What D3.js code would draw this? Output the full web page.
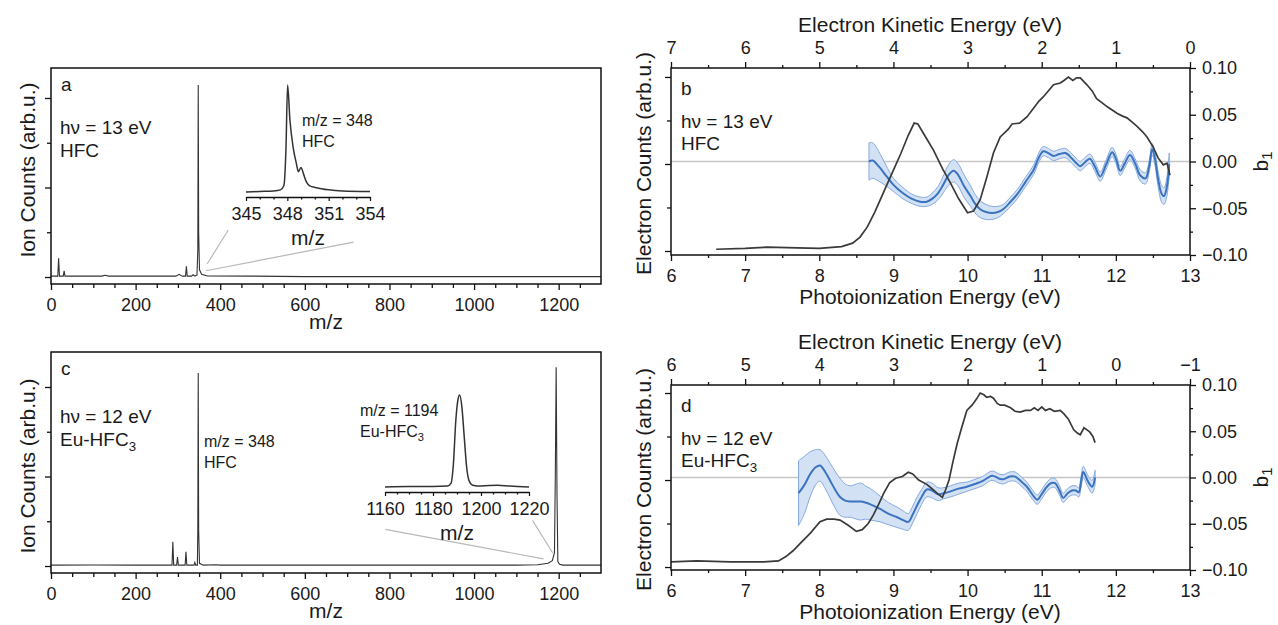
<!DOCTYPE html>
<html>
<head>
<meta charset="utf-8">
<script src="https://cdn.jsdelivr.net/npm/d3@7"></script>
<style>
  body { margin: 0; background: #fff; }
  text { font-family: "Liberation Sans", Arial, Helvetica, sans-serif; fill: #1a1a1a; }
</style>
</head>
<body>
<svg id="fig" width="1278" height="625"></svg>
<script>
// ---------- mass spectra: [m/z, counts] ----------
var mzTicks = [0, 200, 400, 600, 800, 1000, 1200];

var specA = [
  [0, 0.01], [16, 0.01], [18, 0.21], [20, 0.01], [29, 0.01], [31, 0.07], [33, 0.01],
  [120, 0.01], [128, 0.02], [136, 0.01], [295, 0.01], [303, 0.03], [308, 0.015], [312, 0.01],
  [318, 0.01], [320, 0.12], [322, 0.01], [332, 0.01], [336, 0.025], [340, 0.01], [345, 0.02],
  [347, 0.3], [348, 2.145], [349, 0.5], [351, 0.08], [356, 0.03], [370, 0.012], [480, 0.01],
  [600, 0.004], [1300, 0.004]
];

var specC = [
  [0, 0.01], [100, 0.012], [200, 0.01], [286, 0.01], [288, 0.27], [290, 0.01], [297, 0.01],
  [299, 0.1], [301, 0.01], [317, 0.01], [319, 0.16], [321, 0.01], [338, 0.01], [340, 0.04],
  [342, 0.01], [346, 0.01], [347, 0.4], [348, 2.157], [349, 0.4], [351, 0.03], [360, 0.01],
  [390, 0.015], [400, 0.01], [1100, 0.01], [1150, 0.015], [1175, 0.03], [1185, 0.06],
  [1190, 0.15], [1192, 1.0], [1194, 2.22], [1196, 0.8], [1198, 0.05], [1202, 0.02],
  [1210, 0.01], [1300, 0.01]
];

var insetATicks = [345, 348, 351, 354];
var insetA = [
  [345, 0.0], [346, 0.005], [347, 0.01], [347.5, 0.02], [347.75, 0.06], [347.9, 0.4],
  [348.02, 1.0], [348.19, 0.67], [348.43, 0.41], [348.65, 0.27], [348.8, 0.19], [348.99, 0.23],
  [349.15, 0.18], [349.3, 0.12], [349.6, 0.06], [350.1, 0.04], [351, 0.02], [352, 0.01], [354, 0.005]
];

var insetCTicks = [1160, 1180, 1200, 1220];
var insetC = [
  [1160, 0.0], [1170, 0.005], [1180, 0.005], [1186, 0.01], [1187.5, 0.04], [1188.5, 0.25],
  [1189.5, 0.72], [1190.4, 0.95], [1191.1, 1.0], [1192, 0.88], [1193, 0.55], [1194, 0.22],
  [1195, 0.07], [1196.5, 0.02], [1200, 0.01], [1207, 0.02], [1212, 0.01], [1220, 0.0]
];

// ---------- photoelectron spectra ----------
var peTicks = [6, 7, 8, 9, 10, 11, 12, 13];
var keTicksB = [7, 6, 5, 4, 3, 2, 1, 0];
var keTicksD = [6, 5, 4, 3, 2, 1, 0, -1];
var b1Ticks = [-0.10, -0.05, 0, 0.05, 0.10];

// [photon energy, counts]
var countsB = [
  [6.61, 0.02], [7.0, 0.03], [7.3, 0.045], [7.7, 0.035], [8.0, 0.03], [8.3, 0.05], [8.45, 0.09],
  [8.55, 0.16], [8.65, 0.28], [8.75, 0.45], [8.88, 0.7], [9.0, 0.93], [9.1, 1.12], [9.2, 1.33],
  [9.28, 1.47], [9.33, 1.46], [9.42, 1.33], [9.54, 1.16], [9.66, 0.95], [9.77, 0.78], [9.88, 0.6],
  [10.0, 0.44], [10.08, 0.46], [10.17, 0.59], [10.26, 0.85], [10.35, 1.13], [10.44, 1.31],
  [10.55, 1.40], [10.6, 1.46], [10.7, 1.47], [10.8, 1.54], [10.89, 1.64], [10.96, 1.72],
  [11.02, 1.77], [11.1, 1.85], [11.16, 1.91], [11.25, 1.93], [11.3, 1.96], [11.36, 2.0],
  [11.42, 1.96], [11.47, 1.99], [11.52, 1.99], [11.61, 1.91], [11.68, 1.84], [11.74, 1.75],
  [11.82, 1.7], [11.88, 1.66], [11.95, 1.62], [12.02, 1.58], [12.09, 1.55], [12.15, 1.53],
  [12.22, 1.48], [12.29, 1.43], [12.36, 1.37], [12.42, 1.31], [12.5, 1.2], [12.57, 1.07],
  [12.64, 0.99], [12.69, 1.01], [12.73, 0.87]
];

// [photon energy, b1, error]
var betaB = [
  [8.67, 0.0, 0.02], [8.72, 0.001, 0.019], [8.8, -0.005, 0.016], [8.9, -0.015, 0.011],
  [9.0, -0.025, 0.007], [9.13, -0.034, 0.006], [9.25, -0.04, 0.005], [9.36, -0.043, 0.005],
  [9.45, -0.043, 0.005], [9.52, -0.04, 0.006], [9.6, -0.034, 0.007], [9.67, -0.025, 0.009],
  [9.74, -0.015, 0.011], [9.81, -0.01, 0.012], [9.87, -0.014, 0.012], [9.95, -0.026, 0.012],
  [10.04, -0.037, 0.011], [10.1, -0.045, 0.01], [10.17, -0.051, 0.009], [10.25, -0.054, 0.008],
  [10.33, -0.055, 0.007], [10.41, -0.054, 0.006], [10.48, -0.051, 0.005], [10.58, -0.043, 0.005],
  [10.67, -0.035, 0.005], [10.78, -0.022, 0.005], [10.89, -0.009, 0.005], [10.96, 0.004, 0.005],
  [11.02, 0.011, 0.005], [11.09, 0.009, 0.005], [11.16, 0.006, 0.005], [11.24, 0.008, 0.005],
  [11.32, 0.009, 0.005], [11.41, 0.003, 0.005], [11.47, -0.002, 0.005], [11.52, -0.005, 0.005],
  [11.58, -0.001, 0.005], [11.65, 0.003, 0.005], [11.72, -0.006, 0.005], [11.79, -0.016, 0.005],
  [11.87, -0.003, 0.005], [11.95, 0.01, 0.005], [12.0, 0.003, 0.005], [12.06, -0.01, 0.005],
  [12.12, -0.002, 0.005], [12.19, 0.007, 0.005], [12.26, -0.002, 0.005], [12.33, -0.015, 0.006],
  [12.4, -0.018, 0.006], [12.45, -0.005, 0.006], [12.49, 0.013, 0.006], [12.53, 0.002, 0.007],
  [12.57, -0.019, 0.008], [12.62, -0.035, 0.009], [12.65, -0.037, 0.009], [12.69, -0.026, 0.01],
  [12.72, -0.003, 0.012]
];

var countsD = [
  [6.0, 0.06], [6.35, 0.07], [6.8, 0.06], [7.25, 0.06], [7.45, 0.07], [7.55, 0.12], [7.65, 0.19],
  [7.74, 0.27], [7.88, 0.39], [8.01, 0.52], [8.1, 0.55], [8.2, 0.55], [8.28, 0.54], [8.39, 0.48],
  [8.5, 0.41], [8.58, 0.43], [8.66, 0.5], [8.73, 0.6], [8.8, 0.72], [8.87, 0.85], [8.95, 0.97],
  [9.03, 1.02], [9.12, 1.04], [9.2, 1.09], [9.26, 1.07], [9.34, 1.0], [9.45, 0.95], [9.52, 0.9],
  [9.6, 0.84], [9.66, 0.8], [9.7, 0.88], [9.75, 1.0], [9.8, 1.2], [9.86, 1.42], [9.92, 1.6],
  [9.99, 1.8], [10.06, 1.86], [10.12, 1.93], [10.17, 2.0], [10.22, 1.98], [10.26, 1.95],
  [10.31, 1.96], [10.35, 1.94], [10.4, 1.88], [10.44, 1.86], [10.5, 1.86], [10.58, 1.83],
  [10.64, 1.79], [10.71, 1.78], [10.78, 1.8], [10.85, 1.8], [10.9, 1.83], [10.95, 1.8],
  [11.0, 1.84], [11.05, 1.8], [11.11, 1.82], [11.17, 1.79], [11.25, 1.8], [11.3, 1.76],
  [11.36, 1.7], [11.43, 1.58], [11.48, 1.54], [11.52, 1.52], [11.57, 1.6], [11.62, 1.57],
  [11.65, 1.55], [11.69, 1.5], [11.72, 1.43]
];

var betaD = [
  [7.72, -0.017, 0.035], [7.8, -0.008, 0.031], [7.88, 0.004, 0.024], [7.95, 0.011, 0.019],
  [8.01, 0.013, 0.017], [8.08, 0.006, 0.018], [8.15, -0.004, 0.019], [8.22, -0.014, 0.02],
  [8.28, -0.021, 0.02], [8.35, -0.025, 0.018], [8.42, -0.026, 0.017], [8.5, -0.026, 0.019],
  [8.56, -0.026, 0.02], [8.62, -0.027, 0.018], [8.69, -0.029, 0.017], [8.82, -0.034, 0.014],
  [8.93, -0.039, 0.012], [9.05, -0.043, 0.011], [9.13, -0.046, 0.01], [9.2, -0.048, 0.009],
  [9.26, -0.04, 0.009], [9.32, -0.03, 0.009], [9.38, -0.021, 0.008], [9.45, -0.013, 0.008],
  [9.52, -0.014, 0.008], [9.6, -0.018, 0.007], [9.68, -0.017, 0.006], [9.77, -0.015, 0.006],
  [9.88, -0.012, 0.006], [9.99, -0.01, 0.005], [10.1, -0.007, 0.005], [10.2, -0.004, 0.005],
  [10.33, 0.002, 0.005], [10.42, -0.001, 0.005], [10.48, -0.002, 0.005], [10.57, 0.001, 0.005],
  [10.64, 0.001, 0.005], [10.72, -0.004, 0.005], [10.8, -0.01, 0.005], [10.88, -0.019, 0.005],
  [10.94, -0.024, 0.005], [11.0, -0.018, 0.005], [11.07, -0.01, 0.005], [11.13, -0.006, 0.005],
  [11.18, -0.006, 0.005], [11.24, -0.014, 0.005], [11.29, -0.022, 0.005], [11.35, -0.017, 0.005],
  [11.41, -0.014, 0.005], [11.46, -0.014, 0.005], [11.5, -0.016, 0.005], [11.53, -0.005, 0.006],
  [11.56, 0.006, 0.006], [11.6, 0.0, 0.006], [11.63, -0.005, 0.006], [11.68, -0.01, 0.007],
  [11.72, 0.0, 0.008]
];

var svg = d3.select('#fig');
var ink = '#111';
var intFmt = d3.format('d');

function tidy(g, size) {
  g.select('.domain').remove();
  g.selectAll('line').attr('stroke', ink).attr('stroke-width', 1.3);
  g.selectAll('text').attr('font-size', size).style('fill', '#1a1a1a');
}

function frame(g, x0, x1, y0, y1) {
  g.append('rect').attr('x', x0).attr('y', y0)
    .attr('width', x1 - x0).attr('height', y1 - y0)
    .attr('fill', 'none').attr('stroke', ink).attr('stroke-width', 1.5);
}

// text with optional subscript parts: [[str, isSub], ...]
function label(g, x, y, parts, size) {
  var t = g.append('text').attr('x', x).attr('y', y).attr('font-size', size);
  parts.forEach(function(p) {
    if (p[1]) t.append('tspan').attr('dy', size * 0.25).attr('font-size', size * 0.7).text(p[0]);
    else t.append('tspan').text(p[0]);
  });
  return t;
}

function vtitle(g, x, y, parts, size) {
  var t = g.append('text').attr('transform', 'translate(' + x + ',' + y + ') rotate(-90)')
    .attr('text-anchor', 'middle').attr('font-size', size);
  parts.forEach(function(p) {
    if (p[1]) t.append('tspan').attr('dy', size * 0.2).attr('font-size', size * 0.7).text(p[0]);
    else t.append('tspan').text(p[0]);
  });
}

// ---------- mass spectrum panels ----------
function drawMass(p) {
  var x = d3.scaleLinear().domain([0, 1300]).range([51, 601]);
  var y = d3.scaleLinear().domain(p.yDom).range([p.bottom, p.top]);
  var g = svg.append('g');

  // zoom guide lines
  p.guides.forEach(function(l) {
    g.append('line')
      .attr('x1', x(l[0][0])).attr('y1', y(l[0][1]))
      .attr('x2', x(l[1][0])).attr('y2', y(l[1][1]))
      .attr('stroke', '#b8b8b8').attr('stroke-width', 1.2);
  });

  g.append('path').datum(p.spec)
    .attr('d', d3.line().x(function(d) { return x(d[0]); }).y(function(d) { return y(d[1]); }))
    .attr('fill', 'none').attr('stroke', '#333').attr('stroke-width', 1.1);

  frame(g, 51, 601, p.top, p.bottom);

  g.append('g').attr('transform', 'translate(0,' + p.bottom + ')')
    .call(d3.axisBottom(x).tickValues(mzTicks).tickFormat(intFmt).tickSize(6).tickPadding(8))
    .call(tidy, 18);
  g.append('g').attr('transform', 'translate(0,' + p.bottom + ')')
    .call(d3.axisBottom(x).tickValues(d3.range(50, 1300, 50).filter(function(v) { return v % 200; }))
      .tickSize(4).tickFormat(''))
    .call(tidy, 18);
  g.append('g').attr('transform', 'translate(51,0)')
    .call(d3.axisLeft(y).tickValues([0, 1, 2]).tickSize(6).tickFormat(''))
    .call(tidy, 18);
  g.append('g').attr('transform', 'translate(51,0)')
    .call(d3.axisLeft(y).tickValues([0.5, 1.5]).tickSize(4).tickFormat(''))
    .call(tidy, 18);

  g.append('text').attr('x', 326).attr('y', p.bottom + 45).attr('text-anchor', 'middle')
    .attr('font-size', 21).text('m/z');
  vtitle(g, 35, p.yMid, [['Ion Counts (arb.u.)']], 21);

  label(g, 61, p.top + 23, [[p.letter]], 19);
  label(g, 60, p.top + p.txt1, [['h\u03bd = ' + p.hv + ' eV']], 19);
  label(g, 60, p.top + p.txt1 + 23, p.sample, 19);

  // inset
  var xi = d3.scaleLinear().domain(p.inset.dom).range(p.inset.xr);
  var yi = d3.scaleLinear().domain([0, 1]).range(p.inset.yr);
  g.append('path').datum(p.inset.data)
    .attr('d', d3.line().curve(d3.curveMonotoneX)
      .x(function(d) { return xi(d[0]); }).y(function(d) { return yi(d[1]); }))
    .attr('fill', 'none').attr('stroke', '#333').attr('stroke-width', 1.5);
  g.append('g').attr('transform', 'translate(0,' + p.inset.axisY + ')')
    .call(d3.axisBottom(xi).tickValues(p.inset.ticks).tickFormat(intFmt)
      .tickSize(4).tickSizeOuter(0).tickPadding(6))
    .call(function(s) {
      s.selectAll('line').attr('stroke', ink).attr('stroke-width', 1.2);
      s.select('.domain').attr('stroke', ink).attr('stroke-width', 1.4);
      s.selectAll('text').attr('font-size', 18).style('fill', '#1a1a1a');
    });
  g.append('g').attr('transform', 'translate(0,' + p.inset.axisY + ')')
    .call(d3.axisBottom(xi).tickValues(p.inset.minor).tickSize(2.5).tickFormat(''))
    .call(tidy, 18);
  g.append('text').attr('x', (p.inset.xr[0] + p.inset.xr[1]) / 2).attr('y', p.inset.axisY + 48)
    .attr('text-anchor', 'middle').attr('font-size', 21).text('m/z');

  p.notes.forEach(function(n) { label(g, n.x, n.y, n.parts, 16); });
}

drawMass({
  spec: specA, top: 68, bottom: 284, yDom: [-0.078, 2.335], yMid: 170,
  letter: 'a', hv: 13, txt1: 66, sample: [['HFC']],
  guides: [[[369, 0.145], [419, 0.525]], [[366, 0.07], [715, 0.39]]],
  inset: {
    data: insetA, dom: [345, 354], xr: [246, 370], yr: [192, 85], axisY: 197,
    ticks: insetATicks, minor: [346, 347, 349, 350, 352, 353]
  },
  notes: [
    { x: 302, y: 126, parts: [['m/z = 348']] },
    { x: 302, y: 147, parts: [['HFC']] }
  ]
});

drawMass({
  spec: specC, top: 352, bottom: 573, yDom: [-0.078, 2.391], yMid: 466,
  letter: 'c', hv: 12, txt1: 71, sample: [['Eu-HFC'], ['3', true]],
  guides: [[[790, 0.41], [1164, 0.08]], [[1138, 0.51], [1186, 0.145]]],
  inset: {
    data: insetC, dom: [1160, 1220], xr: [385, 529], yr: [487, 395], axisY: 492,
    ticks: insetCTicks, minor: [1165, 1170, 1175, 1185, 1190, 1195, 1205, 1210, 1215]
  },
  notes: [
    { x: 204, y: 447, parts: [['m/z = 348']] },
    { x: 204, y: 468, parts: [['HFC']] },
    { x: 360, y: 416, parts: [['m/z = 1194']] },
    { x: 360, y: 437, parts: [['Eu-HFC'], ['3', true]] }
  ]
});

// ---------- photoelectron panels ----------
function drawPE(p) {
  var x = d3.scaleLinear().domain([6, 13]).range([671, 1190]);
  var xt = d3.scaleLinear().domain([p.hv - 6, p.hv - 13]).range([671, 1190]);
  var yc = d3.scaleLinear().domain(p.cDom).range([p.bottom, p.top]);
  var yb = d3.scaleLinear().domain([-0.1, 0.1]).range([p.bottom, p.top]);
  var g = svg.append('g');

  g.append('line').attr('x1', x(6)).attr('x2', x(13)).attr('y1', yb(0)).attr('y2', yb(0))
    .attr('stroke', '#c6c6c6').attr('stroke-width', 1.3);

  g.append('path').datum(p.beta)
    .attr('d', d3.area().curve(d3.curveCatmullRom)
      .x(function(d) { return x(d[0]); })
      .y0(function(d) { return yb(d[1] - d[2]); })
      .y1(function(d) { return yb(d[1] + d[2]); }))
    .attr('fill', '#d3e1f4').attr('stroke', '#86aade').attr('stroke-width', 1);
  g.append('path').datum(p.beta)
    .attr('d', d3.line().curve(d3.curveCatmullRom)
      .x(function(d) { return x(d[0]); }).y(function(d) { return yb(d[1]); }))
    .attr('fill', 'none').attr('stroke', '#3b73c0').attr('stroke-width', 2);

  g.append('path').datum(p.counts)
    .attr('d', d3.line().x(function(d) { return x(d[0]); }).y(function(d) { return yc(d[1]); }))
    .attr('fill', 'none').attr('stroke', '#3a3a3a').attr('stroke-width', 1.7);

  frame(g, 671, 1190, p.top, p.bottom);

  g.append('g').attr('transform', 'translate(0,' + p.bottom + ')')
    .call(d3.axisBottom(x).tickValues(peTicks).tickFormat(intFmt).tickSize(6).tickPadding(8))
    .call(tidy, 18);
  g.append('g').attr('transform', 'translate(0,' + p.bottom + ')')
    .call(d3.axisBottom(x).tickValues(d3.range(6.5, 13, 1)).tickSize(3).tickFormat(''))
    .call(tidy, 18);
  g.append('g').attr('transform', 'translate(0,' + p.top + ')')
    .call(d3.axisTop(xt).tickValues(p.keTicks).tickFormat(intFmt).tickSize(6).tickPadding(8))
    .call(tidy, 18);
  g.append('g').attr('transform', 'translate(0,' + p.top + ')')
    .call(d3.axisTop(xt).tickValues(p.keTicks.slice(1).map(function(v) { return v + 0.5; }))
      .tickSize(3).tickFormat(''))
    .call(tidy, 18);
  g.append('g').attr('transform', 'translate(671,0)')
    .call(d3.axisLeft(yc).tickValues([0, 1, 2]).tickSize(6).tickFormat(''))
    .call(tidy, 18);
  g.append('g').attr('transform', 'translate(671,0)')
    .call(d3.axisLeft(yc).tickValues([0.5, 1.5]).tickSize(4).tickFormat(''))
    .call(tidy, 18);
  g.append('g').attr('transform', 'translate(1190,0)')
    .call(d3.axisRight(yb).tickValues(b1Ticks).tickFormat(d3.format('.2f')).tickSize(6).tickPadding(6))
    .call(tidy, 18);
  g.append('g').attr('transform', 'translate(1190,0)')
    .call(d3.axisRight(yb).tickValues([-0.075, -0.025, 0.025, 0.075]).tickSize(3).tickFormat(''))
    .call(tidy, 18);

  g.append('text').attr('x', 930).attr('y', p.bottom + 49).attr('text-anchor', 'middle')
    .attr('font-size', 21).text('Photoionization Energy (eV)');
  g.append('text').attr('x', 930).attr('y', p.top - 36).attr('text-anchor', 'middle')
    .attr('font-size', 21).text('Electron Kinetic Energy (eV)');
  vtitle(g, 651, (p.top + p.bottom) / 2 + 2, [['Electron Counts (arb.u.)']], 21);
  vtitle(g, 1268, yb(0), [['b'], ['1', true]], 21);

  label(g, 681, p.top + 27, [[p.letter]], 19);
  label(g, 681, p.top + 60, [['h\u03bd = ' + p.hv + ' eV']], 19);
  label(g, 681, p.top + 82, p.sample, 19);
}

drawPE({
  counts: countsB, beta: betaB, hv: 13, keTicks: keTicksB,
  top: 68, bottom: 255, cDom: [-0.046, 2.103], letter: 'b', sample: [['HFC']]
});

drawPE({
  counts: countsD, beta: betaD, hv: 12, keTicks: keTicksD,
  top: 385, bottom: 570, cDom: [-0.034, 2.092], letter: 'd', sample: [['Eu-HFC'], ['3', true]]
});
</script>
</body>
</html>
